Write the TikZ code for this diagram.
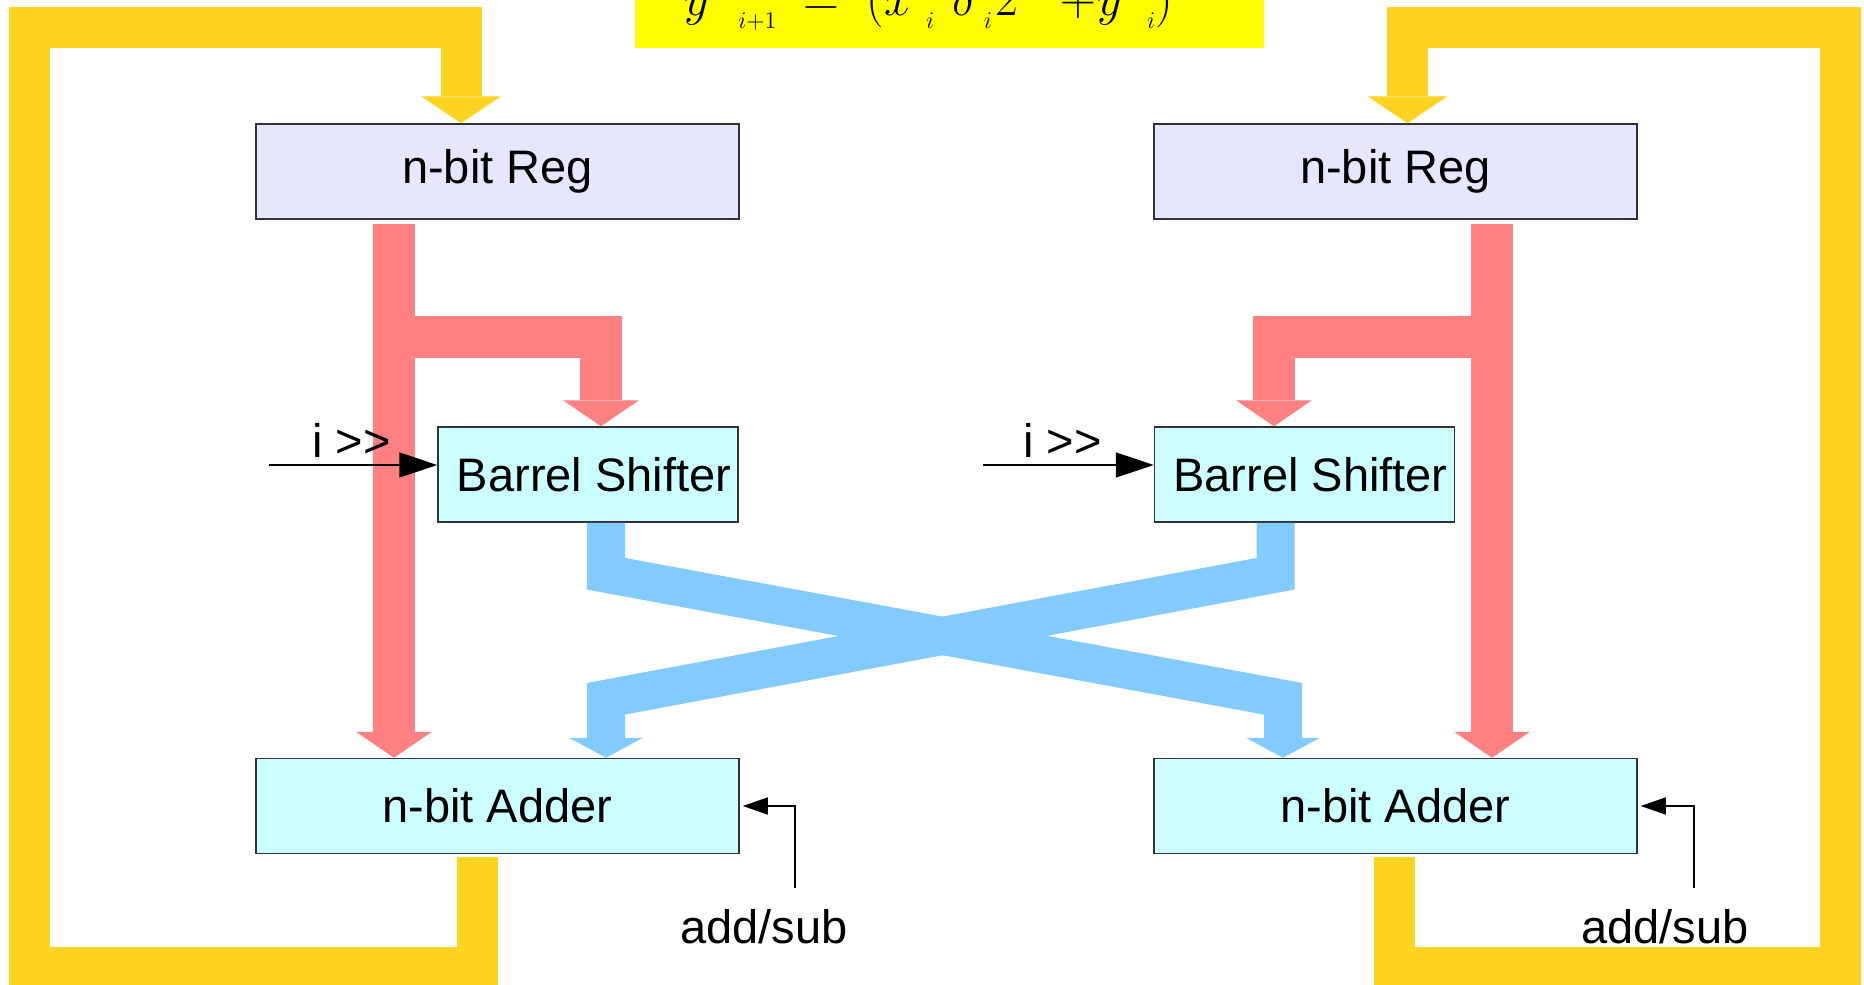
\documentclass[tikz,border=0pt]{standalone}
\usepackage{fontspec}
\setmainfont{Liberation Sans}
\usetikzlibrary{arrows.meta,calc}
\definecolor{regfill}{HTML}{E6E6FF}
\definecolor{cellfill}{HTML}{CCFFFF}
\definecolor{goldpipe}{HTML}{FFD320}
\definecolor{redpipe}{HTML}{FF8080}
\definecolor{bluepipe}{HTML}{83CAFF}
\definecolor{hilite}{HTML}{FFFF00}
\newcommand{\lowsub}[1]{\raisebox{-6.5pt}{$\scriptscriptstyle #1$}}

\begin{document}
\begin{tikzpicture}[x=0.5pt,y=-0.5pt,
    box/.style={draw=black!80,line width=0.75pt,minimum height=47.5pt,inner sep=0pt,
      font=\fontsize{23.5pt}{28pt}\selectfont},
    regbox/.style={box,fill=regfill,minimum width=241.5pt},
    addbox/.style={box,fill=cellfill,minimum width=241.5pt},
    shiftbox/.style={box,fill=cellfill,minimum width=150pt},
    goldflow/.style={draw=goldpipe,line width=20.5pt,
      -{Triangle[length=13.5pt,width=40pt,line width=0pt]}},
    redflow/.style={draw=redpipe,line width=21pt,
      -{Triangle[length=13pt,width=38pt,line width=0pt]}},
    blueflow/.style={draw=bluepipe,line width=19pt,
      -{Triangle[length=10pt,width=37pt,line width=0pt]}},
    shiftsig/.style={line width=0.75pt,-{Triangle[length=19pt,width=12.5pt]}},
    opsig/.style={line width=0.75pt,shorten >=1.5pt,-{Triangle[length=12.5pt,width=8.5pt]}},
    lbl/.style={inner sep=0pt,font=\fontsize{23.5pt}{28pt}\selectfont}]
\useasboundingbox (0,0) rectangle (1864,985);
\clip (0,0) rectangle (1864,985);

% formula strip
\fill[hilite] (635,-20) rectangle (1264,48);
\node[anchor=base west,inner sep=0pt,font=\fontsize{25pt}{30pt}\selectfont] (frm) at (684,15)
  {$y\hspace{14.25pt}\lowsub{i+1}\hspace{13.7pt}{=}\hspace{13.5pt}(x\hspace{7pt}\lowsub{i}\hspace{9.2pt}\delta\hspace{4pt}\lowsub{i}\hspace{2pt}2^{-i}\hspace{1pt}{+}\hspace{1pt}y\hspace{11.75pt}\lowsub{i})$};

% blocks
\node[regbox] (regL) at (497.5,171.5) {n-bit Reg};
\node[regbox] (regR) at (1395.5,171.5) {n-bit Reg};
\node[shiftbox] (barL) at (588,474.5) {\hspace*{6pt}Barrel Shifter};
\node[shiftbox] (barR) at (1304.5,474.5) {\hspace*{6pt}Barrel Shifter};
\node[addbox] (addL) at (497.5,806) {n-bit Adder};
\node[addbox] (addR) at (1395.5,806) {n-bit Adder};

% feedback loops
\draw[goldflow] ($(addL.south)+(-20.5,3)$) |- (29,967) |- ($(regL.north)+(-36.5,-95.5)$) -- ($(regL.north)+(-36.5,0)$);
\draw[goldflow] ($(addR.south)+(-1.5,3)$) |- (1840.5,967) |- ($(regR.north)+(12,-95.5)$) -- ($(regR.north)+(12,0)$);

% register outputs
\draw[redflow] ($(regL.south)+(-103.5,4)$) -- ($(addL.north)+(-103.5,0)$);
\draw[redflow] ($(regL.south)+(-103.5,117)$) -| ($(barL.north)+(13,0)$);
\draw[redflow] ($(regR.south)+(96.5,4)$) -- ($(addR.north)+(96.5,0)$);
\draw[redflow] ($(regR.south)+(96.5,117)$) -| ($(barR.north)+(-30.5,0)$);

% shifter outputs cross over
\draw[blueflow] ($(barL.south)+(18,0)$) -- ++(0,51) -- ($(addR.north)+(-112.5,-59)$) -- ($(addR.north)+(-112.5,0)$);
\draw[blueflow] ($(barR.south)+(-29,0)$) -- ++(0,51) -- ($(addL.north)+(108.5,-59)$) -- ($(addL.north)+(108.5,0)$);

% control inputs
\coordinate (inL) at (269,465);
\coordinate (inR) at (983,465);
\draw[shiftsig] (inL) -- (inL -| barL.west);
\draw[shiftsig] (inR) -- (inR -| barR.west);
\node[lbl,anchor=base west] (shL) at (312,457) {i >{}>};
\node[lbl,anchor=base west] (shR) at (1023,457) {i >{}>};

\coordinate (opL) at (795,888);
\coordinate (opR) at (1694,888);
\draw[opsig] (opL) |- (addL.east);
\draw[opsig] (opR) |- (addR.east);
\node[lbl,anchor=base] (asL) at (764,943) {add/sub};
\node[lbl,anchor=base] (asR) at (1665,943) {add/sub};
\end{tikzpicture}
\end{document}
